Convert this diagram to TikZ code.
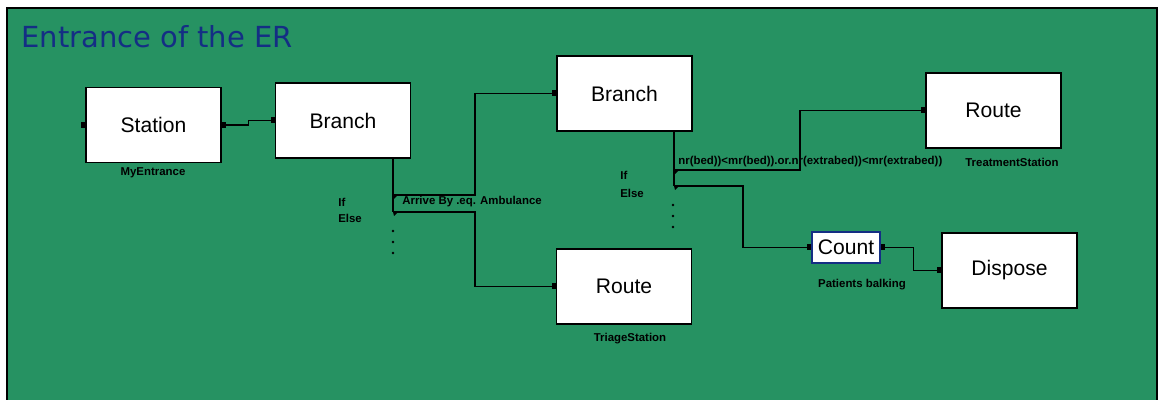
\documentclass[tikz,border=0pt]{standalone}
\usepackage{fontspec}
\setmainfont{Liberation Sans}
\newfontfamily\titlefont{DejaVu Sans}
\usepackage{tikz}
\usetikzlibrary{positioning}

\definecolor{erGreen}{RGB}{38,146,98}
\definecolor{erBlue}{RGB}{20,46,132}

\begin{document}
\begin{tikzpicture}[x=0.02cm, y=-0.02cm,
    module/.style={shape=rectangle, draw=black, fill=white, line width=0.9pt,
      minimum width=2.7cm, minimum height=1.5cm, font=\fontsize{12}{14}\selectfont},
    counter/.style={module, draw=erBlue, minimum width=1.32cm, minimum height=0.62cm},
    tag/.style={font=\bfseries\fontsize{6.5}{7}\selectfont, inner sep=0pt},
    wire/.style={line width=0.7pt, draw=black}]
  \useasboundingbox (0,0) rectangle (1161,405);
  \fill[erGreen] (7,8) rectangle (1157,400);
  \draw[line width=0.6pt] (7,400) -- (7,8) -- (1157,8) -- (1157,400);
  \node[anchor=base west, text=erBlue, font=\titlefont\fontsize{16.5}{18}\selectfont, inner sep=0pt] (title) at (21,48) {Entrance of the ER};

  % modules
  \node[module] (st) at (153.5,125) {Station};
  \node[module] (br1) at (343,120.5) {Branch};
  \node[module] (br2) at (624.5,93.5) {Branch};
  \node[module] (rtTriage) at (624,286.5) {Route};
  \node[module] (rtTreat) at (993.5,110.5) {Route};
  \node[counter] (cnt) at (846,247.5) {Count};
  \node[module] (disp) at (1009.5,270.5) {Dispose};

  % names under the modules
  \node[tag] (stName) at (153,173) {MyEntrance};
  \node[tag] (triageName) at (630,339) {TriageStation};
  \node[tag] (treatName) at (1012,162) {TreatmentStation};
  \node[tag] (cntName) at (862,285) {Patients balking};

  % branch exits
  \coordinate (b1if) at (393,195);
  \coordinate (b1else) at (393,212);
  \coordinate (b2if) at (674,170);
  \coordinate (b2else) at (674,186);
  \draw[wire] (br1.south -| b1if) -- (b1else);
  \draw[wire] (br2.south -| b2if) -- (b2else);
  \foreach \y in {231,242,253} \fill (393,\y) circle (1.3);
  \foreach \y in {205,216,227} \fill (673,\y) circle (1.3);

  \node[tag, anchor=west] (b1ifTxt) at (338,202) {If};
  \node[tag, anchor=west] (b1elseTxt) at (338,218) {Else};
  \node[tag, anchor=west] (b1cond) at (402,202) {Arrive By .eq. Ambulance};
  \node[tag, anchor=west] (b2ifTxt) at (620,175) {If};
  \node[tag, anchor=west] (b2elseTxt) at (620,193) {Else};
  \node[tag, anchor=west] (b2cond) at (678,162) {nr(bed))<mr(bed)).or.nr(extrabed))<mr(extrabed))};

  % connectors
  \draw[wire] (st.east) -- ++(27,0) |- (br1.west);
  \draw[wire] (b1if) -- ++(82,0) |- (br2.west);
  \draw[wire] (b1else) -- ++(82,0) |- (rtTriage.west);
  \draw[wire] (b2if) -- ++(126,0) |- (rtTreat.west);
  \draw[wire] (b2else) -- ++(69,0) |- (cnt.west);
  \draw[wire] (cnt.east) -- ++(33,0) |- (disp.west);

  % ports
  \foreach \n in {st,br1,br2,rtTriage,rtTreat,cnt,disp}
    \fill (\n.west) ++(-4,-3) rectangle ++(4,6);
  \foreach \n in {st,cnt}
    \fill (\n.east) ++(0,-3) rectangle ++(4,6);
  \foreach \c in {b1if,b1else,b2if,b2else}
    \fill (\c) -- ++(5,0) -- ++(-4,4) -- cycle;
\end{tikzpicture}
\end{document}
